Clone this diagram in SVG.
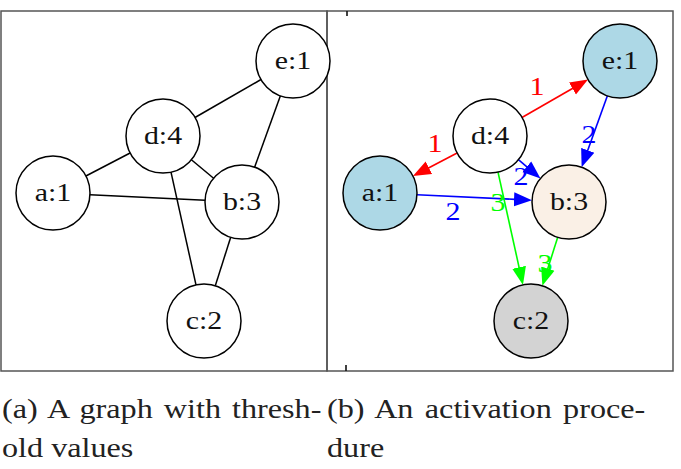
<svg xmlns="http://www.w3.org/2000/svg" width="681" height="469" viewBox="0 0 681 469">
<style>
.frame{fill:none;stroke:#555;stroke-width:1.5}
.tick{stroke:#111;stroke-width:1.6}
.node{stroke:#000;stroke-width:1.5}
.edge{fill:none;stroke:#000;stroke-width:1.5}
.lbl{font-family:"Liberation Serif","Times New Roman",serif;font-size:26px;fill:#111;text-anchor:middle}
.el{font-family:"Liberation Serif","Times New Roman",serif;font-size:25px;text-anchor:middle}
.cap{font-family:"Liberation Serif","Times New Roman",serif;font-size:28px;fill:#222}
.r{stroke:#f00;fill:none;stroke-width:1.6}
.b{stroke:#00f;fill:none;stroke-width:1.6}
.g{stroke:#0f0;fill:none;stroke-width:1.6}
</style>
<defs>
<marker id="ar" markerUnits="userSpaceOnUse" markerWidth="20" markerHeight="16" refX="1" refY="0" viewBox="0 -8 20 16" orient="auto"><path d="M0,-7 L18,0 L0,7 z" fill="#f00"/></marker>
<marker id="ab" markerUnits="userSpaceOnUse" markerWidth="20" markerHeight="16" refX="1" refY="0" viewBox="0 -8 20 16" orient="auto"><path d="M0,-7 L18,0 L0,7 z" fill="#00f"/></marker>
<marker id="ag" markerUnits="userSpaceOnUse" markerWidth="20" markerHeight="16" refX="1" refY="0" viewBox="0 -8 20 16" orient="auto"><path d="M0,-7 L18,0 L0,7 z" fill="#0f0"/></marker>
</defs>
<rect width="681" height="469" fill="#fff"/>
<g id="frames">
<rect class="frame" x="1" y="11" width="326" height="360"/>
<rect class="frame" x="327" y="11" width="346" height="360"/>
<line class="tick" x1="347" y1="11" x2="347" y2="16"/>
<line class="tick" x1="346" y1="365" x2="346" y2="371"/>
</g>
<g id="connectors">
<line class="edge" x1="195" y1="117.5" x2="261" y2="79.5"/>
<line class="edge" x1="130.1" y1="153" x2="85.9" y2="176"/>
<line class="edge" x1="280.4" y1="95.8" x2="254.6" y2="167.2"/>
<line class="edge" x1="191.4" y1="159.7" x2="213.6" y2="178.3"/>
<line class="edge" x1="90" y1="194.8" x2="205" y2="200.2"/>
<line class="edge" x1="171" y1="172.1" x2="196" y2="284.9"/>
<line class="edge" x1="230.7" y1="237.3" x2="215.3" y2="285.7"/>
<line class="r" x1="522" y1="117.5" x2="573.3" y2="88" marker-end="url(#ar)"/>
<line class="r" x1="457.1" y1="153" x2="428" y2="168.2" marker-end="url(#ar)"/>
<line class="b" x1="607.4" y1="95.8" x2="587.4" y2="151.2" marker-end="url(#ab)"/>
<line class="b" x1="518.4" y1="159.7" x2="527.5" y2="167.4" marker-end="url(#ab)"/>
<line class="b" x1="417" y1="194.8" x2="515" y2="199.4" marker-end="url(#ab)"/>
<line class="g" x1="498" y1="172.1" x2="519.3" y2="268.3" marker-end="url(#ag)"/>
<line class="g" x1="557.7" y1="237.3" x2="547.5" y2="269.5" marker-end="url(#ag)"/>
<text class="el" fill="#f00" transform="translate(537,95) scale(1.2,1)">1</text>
<text class="el" fill="#f00" transform="translate(435,152) scale(1.2,1)">1</text>
<text class="el" fill="#00f" transform="translate(589,143) scale(1.2,1)">2</text>
<text class="el" fill="#00f" transform="translate(521,185) scale(1.2,1)">2</text>
<text class="el" fill="#00f" transform="translate(453,220) scale(1.2,1)">2</text>
<text class="el" fill="#0f0" transform="translate(498,211) scale(1.2,1)">3</text>
<text class="el" fill="#0f0" transform="translate(545,272) scale(1.2,1)">3</text>
</g>
<g id="left-e"><circle class="node" cx="293" cy="61" r="37" fill="#fff"/><text class="lbl" transform="translate(293,69) scale(1.15,1)">e:1</text></g>
<g id="left-d"><circle class="node" cx="163" cy="136" r="37" fill="#fff"/><text class="lbl" transform="translate(163,144) scale(1.15,1)">d:4</text></g>
<g id="left-a"><circle class="node" cx="53" cy="193" r="37" fill="#fff"/><text class="lbl" transform="translate(53,201) scale(1.15,1)">a:1</text></g>
<g id="left-b"><circle class="node" cx="242" cy="202" r="37" fill="#fff"/><text class="lbl" transform="translate(242,210) scale(1.15,1)">b:3</text></g>
<g id="left-c"><circle class="node" cx="204" cy="321" r="37" fill="#fff"/><text class="lbl" transform="translate(204,329) scale(1.15,1)">c:2</text></g>
<g id="right-e"><circle class="node" cx="620" cy="61" r="37" fill="#add8e6"/><text class="lbl" transform="translate(620,69) scale(1.15,1)">e:1</text></g>
<g id="right-d"><circle class="node" cx="490" cy="136" r="37" fill="#fff"/><text class="lbl" transform="translate(490,144) scale(1.15,1)">d:4</text></g>
<g id="right-a"><circle class="node" cx="380" cy="193" r="37" fill="#add8e6"/><text class="lbl" transform="translate(380,201) scale(1.15,1)">a:1</text></g>
<g id="right-b"><circle class="node" cx="569" cy="202" r="37" fill="#faf0e6"/><text class="lbl" transform="translate(569,210) scale(1.15,1)">b:3</text></g>
<g id="right-c"><circle class="node" cx="531" cy="321" r="37" fill="#d3d3d3"/><text class="lbl" transform="translate(531,329) scale(1.15,1)">c:2</text></g>
<g id="captions">
<text class="cap" transform="translate(2,418) scale(1.15,1)" word-spacing="2.6">(a) A graph with thresh-</text>
<text class="cap" transform="translate(2,457) scale(1.15,1)">old values</text>
<text class="cap" transform="translate(327,418) scale(1.15,1)" word-spacing="2.9">(b) An activation proce-</text>
<text class="cap" transform="translate(327,457) scale(1.15,1)">dure</text>
</g>
</svg>
